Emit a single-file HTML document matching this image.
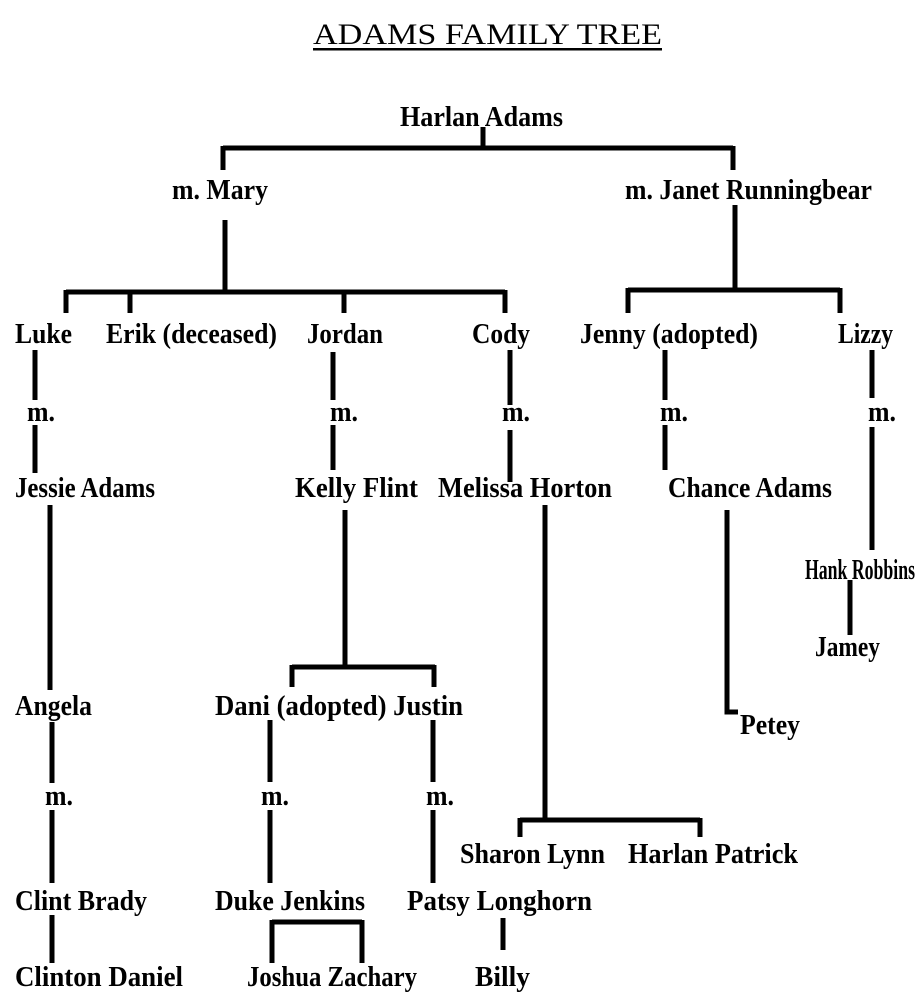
<!DOCTYPE html>
<html><head><style>
html,body{margin:0;padding:0;background:#fff;}
svg{display:block}
text{font-family:"Liberation Serif",serif;font-size:28px;font-weight:bold;fill:#000}
</style></head><body>
<svg width="920" height="1007" viewBox="0 0 920 1007" xmlns="http://www.w3.org/2000/svg">
<g>
<text x="313" y="44" textLength="349" lengthAdjust="spacingAndGlyphs" style="font-size:30px;font-weight:normal">ADAMS FAMILY TREE</text>
<rect x="313" y="48" width="349" height="2.5" fill="#000"/>
<text x="400" y="126" textLength="163" lengthAdjust="spacingAndGlyphs">Harlan Adams</text>
<text x="172" y="199" textLength="96" lengthAdjust="spacingAndGlyphs">m. Mary</text>
<text x="625" y="199" textLength="247" lengthAdjust="spacingAndGlyphs">m. Janet Runningbear</text>
<text x="15" y="343" textLength="57" lengthAdjust="spacingAndGlyphs">Luke</text>
<text x="106" y="343" textLength="171" lengthAdjust="spacingAndGlyphs">Erik (deceased)</text>
<text x="307" y="343" textLength="76" lengthAdjust="spacingAndGlyphs">Jordan</text>
<text x="472" y="343" textLength="58" lengthAdjust="spacingAndGlyphs">Cody</text>
<text x="580" y="343" textLength="178" lengthAdjust="spacingAndGlyphs">Jenny (adopted)</text>
<text x="838" y="343" textLength="55" lengthAdjust="spacingAndGlyphs">Lizzy</text>
<text x="27" y="421" textLength="28" lengthAdjust="spacingAndGlyphs">m.</text>
<text x="330" y="421" textLength="28" lengthAdjust="spacingAndGlyphs">m.</text>
<text x="502" y="421" textLength="28" lengthAdjust="spacingAndGlyphs">m.</text>
<text x="660" y="421" textLength="28" lengthAdjust="spacingAndGlyphs">m.</text>
<text x="868" y="421" textLength="28" lengthAdjust="spacingAndGlyphs">m.</text>
<text x="15" y="497" textLength="140" lengthAdjust="spacingAndGlyphs">Jessie Adams</text>
<text x="295" y="497" textLength="123" lengthAdjust="spacingAndGlyphs">Kelly Flint</text>
<text x="438" y="497" textLength="174" lengthAdjust="spacingAndGlyphs">Melissa Horton</text>
<text x="668" y="497" textLength="164" lengthAdjust="spacingAndGlyphs">Chance Adams</text>
<text x="805" y="579" textLength="110" lengthAdjust="spacingAndGlyphs">Hank Robbins</text>
<text x="815" y="656" textLength="65" lengthAdjust="spacingAndGlyphs">Jamey</text>
<text x="15" y="715" textLength="77" lengthAdjust="spacingAndGlyphs">Angela</text>
<text x="215" y="715" textLength="248" lengthAdjust="spacingAndGlyphs">Dani (adopted) Justin</text>
<text x="740" y="734" textLength="60" lengthAdjust="spacingAndGlyphs">Petey</text>
<text x="45" y="805" textLength="28" lengthAdjust="spacingAndGlyphs">m.</text>
<text x="261" y="805" textLength="28" lengthAdjust="spacingAndGlyphs">m.</text>
<text x="426" y="805" textLength="28" lengthAdjust="spacingAndGlyphs">m.</text>
<text x="460" y="863" textLength="145" lengthAdjust="spacingAndGlyphs">Sharon Lynn</text>
<text x="628" y="863" textLength="170" lengthAdjust="spacingAndGlyphs">Harlan Patrick</text>
<text x="15" y="910" textLength="132" lengthAdjust="spacingAndGlyphs">Clint Brady</text>
<text x="215" y="910" textLength="150" lengthAdjust="spacingAndGlyphs">Duke Jenkins</text>
<text x="407" y="910" textLength="185" lengthAdjust="spacingAndGlyphs">Patsy Longhorn</text>
<text x="15" y="986" textLength="168" lengthAdjust="spacingAndGlyphs">Clinton Daniel</text>
<text x="247" y="986" textLength="170" lengthAdjust="spacingAndGlyphs">Joshua Zachary</text>
<text x="475" y="986" textLength="55" lengthAdjust="spacingAndGlyphs">Billy</text>
</g>
<g stroke="#000" fill="none" stroke-width="5">
<path d="M483 127V148M223 148H733M223 146V170M733 146V170"/>
<path d="M225 220V292M66 292H505M66 290V313M130 290V313M344 290V313M505 290V313"/>
<path d="M735 205V290M628 290H840M628 288V313M840 288V313"/>
<path d="M35 350V400M35 425V473M333 352V400M333 425V470M510 350V405M510 430V482M665 350V400M665 425V470M872 350V398M872 427V550"/>
<path d="M50 505V690M345 510V667M292 667H435M292 665V687M434 665V687"/>
<path d="M545 505V820M520 820H700M520 818V837M700 818V837"/>
<path d="M727 510V712H738M850 580V635"/>
<path d="M52 722V783M52 810V883M270 720V782M270 810V883M433 720V782M433 810V883"/>
<path d="M52 915V963M272 922H362M272 920V963M362 920V963M503 918V950"/>
</g>
</svg>
</body></html>
